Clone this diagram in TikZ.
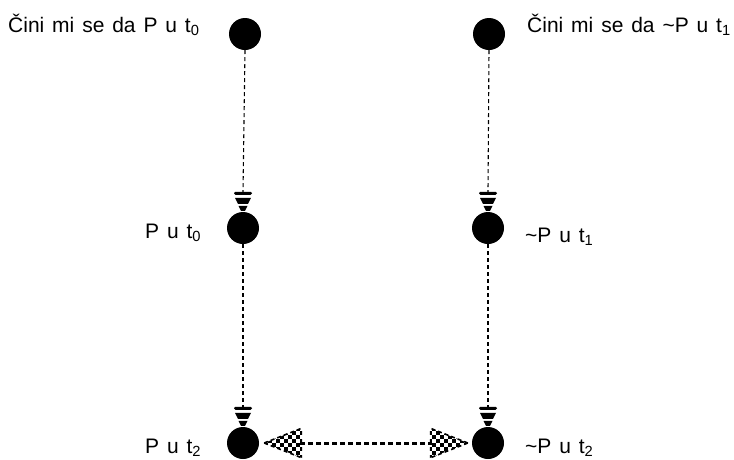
\documentclass[tikz,border=0pt]{standalone}
\usepackage{fontspec}
\setmainfont[WordSpace=1.35]{Liberation Sans}
\usetikzlibrary{calc}
\newcommand\lblfont{\fontsize{21}{25}\selectfont}
\newcommand\sub[1]{\textsubscript{#1}}
\tikzset{
  dot/.style={circle, fill=black, inner sep=0pt, minimum size=32pt},
  lbl/.style={inner sep=0pt, anchor=base west, font=\lblfont},
  link/.style={line width=1.1pt, dash pattern=on 4pt off 3pt},
  bridge/.style={line width=3pt, dash pattern=on 5pt off 3pt},
  % stacked bar-and-wedge tip sitting on top of a dot
  pics/tipmark/.style={code={
    \fill[rounded corners=1.4pt] (-9,-20) rectangle (9,-17);
    \fill (-8,-14) -- (8,-14) -- (5,-8) -- (-5,-8) -- cycle;
    \fill (-4.5,-6) -- (4.5,-6) -- (2,-1) -- (-2,-1) -- cycle;
  }},
  % checkered arrow head, tip at the origin, opening to the right
  pics/checkhead/.style={code={
    \begin{scope}
      \clip (0,0) -- (38,-15) -- (38,15) -- cycle;
      \foreach \i in {0,2,...,10}
        \foreach \j in {-4,-2,...,2} {
          \fill (\i*4,\j*4) rectangle ++(4,4);
          \fill (\i*4+4,\j*4+4) rectangle ++(4,4);
        }
    \end{scope}
    \draw[line width=1.6pt, dash pattern=on 4pt off 3pt]
      (0,0) -- (38,-15) (0,0) -- (38,15);
  }},
}
\begin{document}
\begin{tikzpicture}[x=1pt, y=-1pt]
  \useasboundingbox (0,0) rectangle (734,459);

  % dots
  \node[dot] (tl) at (245,34) {};
  \node[dot] (ml) at (243,228) {};
  \node[dot] (bl) at (243,443) {};
  \node[dot] (tr) at (489,34) {};
  \node[dot] (mr) at (488,228) {};
  \node[dot] (br) at (488,443) {};

  % vertical dashed links with their tips
  \foreach \a/\b in {tl/ml, ml/bl, tr/mr, mr/br} {
    \draw[link] (\a.south) -- ($(\b.north)+(0,-20)$);
    \pic at (\b.north) {tipmark};
  }

  % double-headed checkered connector
  \coordinate (lt) at ($(bl.east)+(5,0)$);
  \coordinate (rt) at ($(br.west)+(-4,0)$);
  \draw[bridge, shorten <=36pt, shorten >=36pt] (lt) -- (rt);
  \pic at (lt) {checkhead};
  \pic[xscale=-1] at (rt) {checkhead};

  % labels
  \node[lbl] (ltop) at (8,32) {Čini mi se da P u t\sub{0}};
  \node[lbl] (rtop) at (527,32) {Čini mi se da \textasciitilde P u t\sub{1}};
  \node[lbl] (lmid) at (145,238) {P u t\sub{0}};
  \node[lbl] (rmid) at (525,242) {\textasciitilde P u t\sub{1}};
  \node[lbl] (lbot) at (145,453) {P u t\sub{2}};
  \node[lbl] (rbot) at (525,453) {\textasciitilde P u t\sub{2}};
\end{tikzpicture}
\end{document}
